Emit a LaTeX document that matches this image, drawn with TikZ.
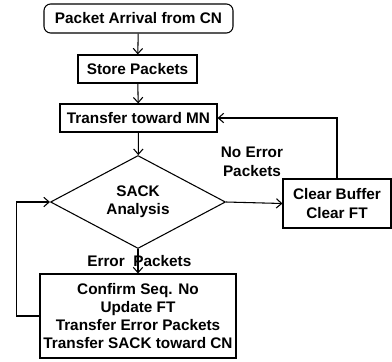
\documentclass[tikz,border=0pt]{standalone}
\usepackage{fontspec}
\setmainfont{Liberation Sans}
\usetikzlibrary{shapes.geometric,arrows.meta}

\tikzset{
  flowbox/.style={draw, line width=0.8pt, inner sep=0pt, align=center,
    font=\fontsize{11.5}{13.7}\selectfont\bfseries},
  flowline/.style={line width=0.8pt, -{Straight Barb[length=4pt,width=7pt]}},
  flowlabel/.style={inner sep=1pt, align=center,
    font=\fontsize{11.5}{14}\selectfont\bfseries}
}

\begin{document}
\begin{tikzpicture}[x=0.75pt, y=-0.75pt]
  \useasboundingbox (0,0) rectangle (392,361);

  % Main column
  \node[flowbox, rounded corners=5pt, minimum width=141.75pt, minimum height=21.75pt]
    (arrival) at (138.5,18.5) {Packet Arrival from CN};
  \node[flowbox, minimum width=89.25pt, minimum height=21pt]
    (store) at (137.5,69) {Store Packets};
  \node[flowbox, minimum width=117.75pt, minimum height=21pt]
    (transfer) at (138.5,118) {Transfer toward MN};
  \node[flowbox, diamond, aspect=1.88, minimum width=131.25pt, minimum height=69.75pt]
    (sack) at (138,202) {SACK\\Analysis};
  \node[flowbox, minimum width=147pt, minimum height=63pt]
    (confirm) at (138,316)
    {Confirm Seq. No\\Update FT\\Transfer Error Packets\\Transfer SACK toward CN};

  % Side box
  \node[flowbox, minimum width=81pt, minimum height=36.75pt]
    (clear) at (337,203.5) {Clear Buffer\\Clear FT};

  % Connectors
  \draw[flowline] (arrival) -- (store);
  \draw[flowline] (store) -- (transfer);
  \draw[flowline] (transfer) -- (sack);
  \draw[flowline] (sack) -- (confirm)
    node[flowlabel, midway, xshift=1pt] {Error\ \ Packets};
  \draw[flowline] (sack.east) -- (clear.west);
  \draw[flowline] (clear.north) |- (transfer.east);
  \draw[flowline] (confirm.west) -- ++(-23,0) |- (sack.west);

  % Branch label
  \node[flowlabel] (noerror) at (252,162) {No Error\\Packets};

\end{tikzpicture}
\end{document}
